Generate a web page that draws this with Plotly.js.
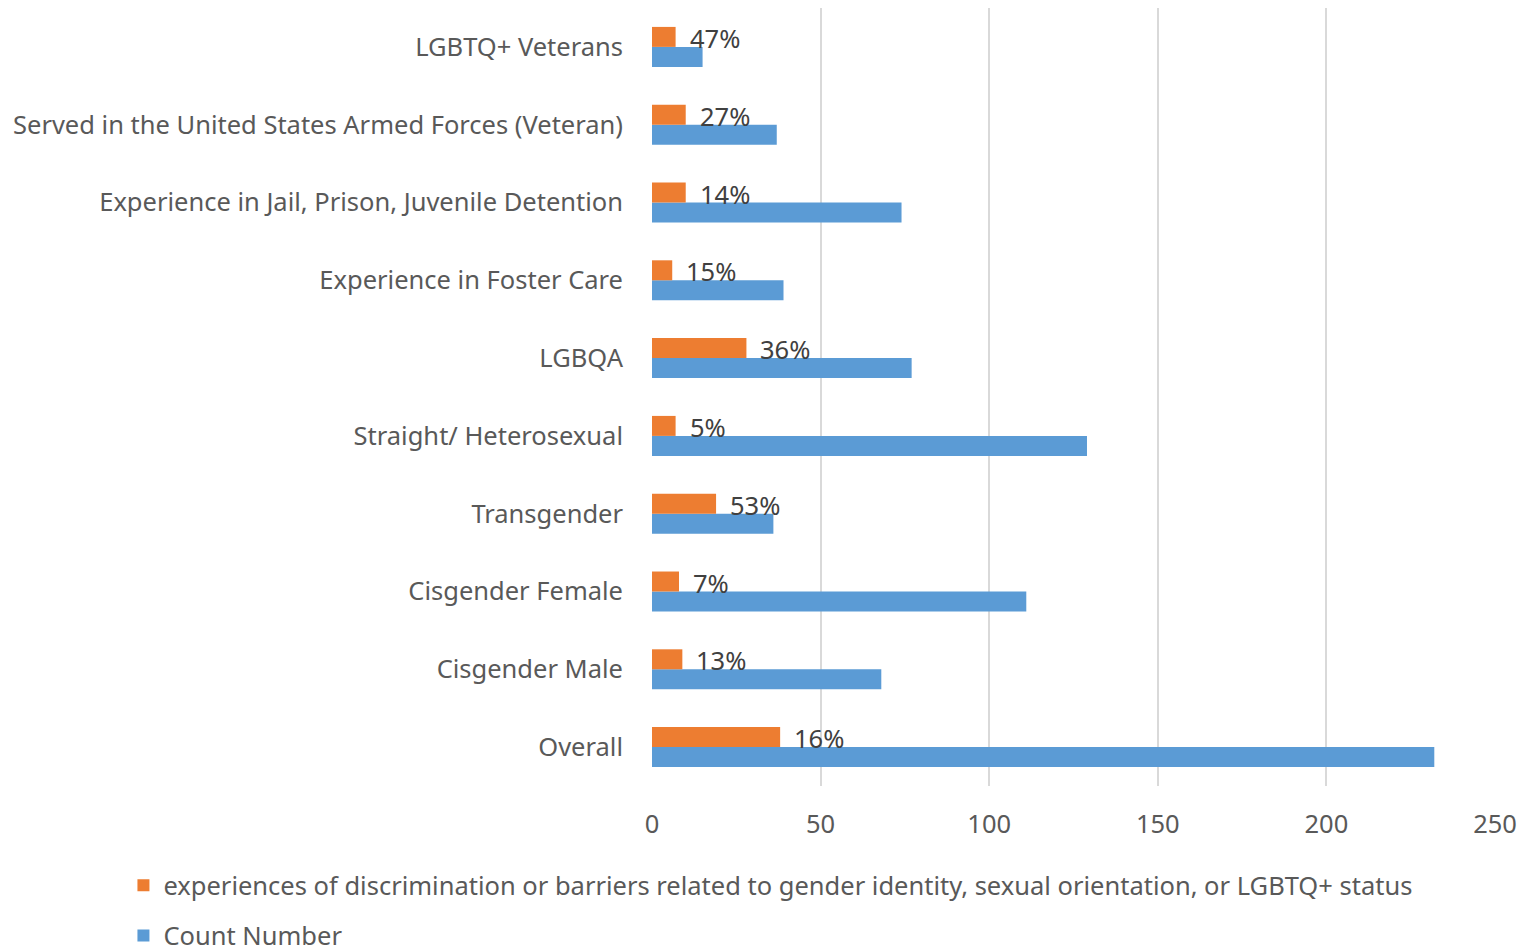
<!DOCTYPE html>
<html>
<head>
<meta charset="utf-8">
<script src="https://cdn.plot.ly/plotly-3.0.1.min.js"></script>
<style>html,body{margin:0;padding:0;background:#fff;}#chart{width:1539px;height:951px;}</style>
</head>
<body>
<div id="chart"></div>
<script>
const categories = [
  "Overall",
  "Cisgender Male",
  "Cisgender Female",
  "Transgender",
  "Straight/ Heterosexual",
  "LGBQA",
  "Experience in Foster Care",
  "Experience in Jail, Prison, Juvenile Detention",
  "Served in the United States Armed Forces (Veteran)",
  "LGBTQ+ Veterans"
];
const countNumber = [232, 68, 111, 36, 129, 77, 39, 74, 37, 15];
const discrimination = [38, 9, 8, 19, 7, 28, 6, 10, 10, 7];
const percentLabels = ["16%", "13%", "7%", "53%", "5%", "36%", "15%", "14%", "27%", "47%"];
const xTicks = [0, 50, 100, 150, 200, 250];

const FONT = "Noto Sans, Open Sans, sans-serif";
const FS = 25.5;

const traces = [
  {
    type: "bar", orientation: "h", name: "Count Number",
    y: categories, x: countNumber,
    marker: {color: "#5B9BD5"},
    legendgroup: "b", legendrank: 2, hoverinfo: "x+y"
  },
  {
    type: "bar", orientation: "h",
    name: "experiences of discrimination or barriers related to gender identity, sexual orientation, or LGBTQ+ status",
    y: categories, x: discrimination,
    marker: {color: "#ED7D31"},
    legendgroup: "a", legendrank: 1, hoverinfo: "x+y"
  }
];

const annotations = categories.map((c, i) => ({
  x: discrimination[i], y: c, xref: "x", yref: "y",
  text: percentLabels[i], showarrow: false,
  xanchor: "left", yanchor: "middle",
  xshift: 12, yshift: 9,
  font: {family: FONT, size: FS, color: "#404040"}
}));

const layout = {
  width: 1539, height: 951,
  margin: {l: 652, r: 44, t: 8, b: 165, autoexpand: false},
  paper_bgcolor: "#ffffff", plot_bgcolor: "#ffffff",
  font: {family: FONT, color: "#595959"},
  barmode: "group",
  bargap: 0.486, bargroupgap: 0,
  showlegend: true,
  legend: {
    orientation: "v", x: -0.627, xanchor: "left", y: -0.098, yanchor: "top",
    font: {family: FONT, size: FS, color: "#595959"},
    traceorder: "grouped", itemwidth: 30, tracegroupgap: 14
  },
  xaxis: {
    range: [0, 250], tickvals: xTicks, ticktext: xTicks.map(String),
    showgrid: true, gridcolor: "#D9D9D9", gridwidth: 2,
    zeroline: false, showline: false, ticks: "",
    tickfont: {family: FONT, size: FS, color: "#595959"},
    ticklabelstandoff: 20, fixedrange: true
  },
  yaxis: {
    type: "category", categoryorder: "array", categoryarray: categories,
    showgrid: false, zeroline: false, showline: false, ticks: "",
    tickfont: {family: FONT, size: FS, color: "#595959"},
    ticklabelstandoff: 28, fixedrange: true
  },
  annotations: annotations
};

Plotly.newPlot("chart", traces, layout, {displayModeBar: false, staticPlot: true});
</script>
</body>
</html>
